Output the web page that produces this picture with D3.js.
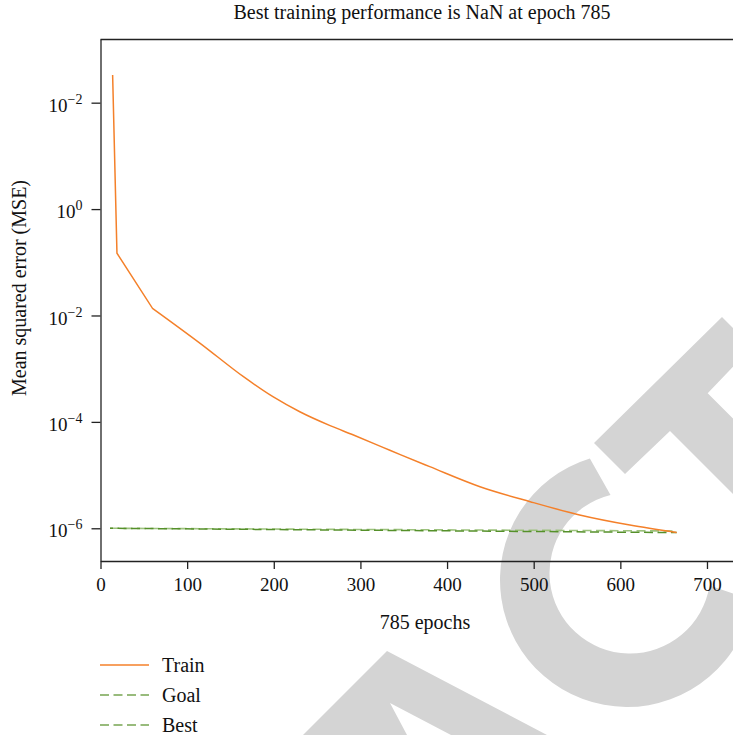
<!DOCTYPE html>
<html>
<head>
<meta charset="utf-8">
<script src="https://cdn.jsdelivr.net/npm/d3@7"></script>
<style>
  body { margin: 0; background: #fff; }
  svg { display: block; }
  text { font-family: "Liberation Serif", "DejaVu Serif", serif; fill: #111; }
</style>
</head>
<body>
<div id="chart"></div>
<script>
// training record
var trainEpochs = [14, 19, 60, 115, 165, 199, 230, 265, 292, 326, 346, 380, 438, 496, 553, 611, 665];
var trainMSE = [331, 0.148, 0.01365, 0.0030, 7.06e-4, 2.97e-4, 1.55e-4, 8.5e-5, 5.66e-5, 3.32e-5, 2.42e-5, 1.44e-5, 6.05e-6, 3.16e-6, 1.78e-6, 1.15e-6, 8.3e-7];
var goalEpochs = [11, 665];
var goalMSE = [1.0e-6, 8.9e-7];
var bestEpochs = [11, 665];
var bestMSE = [1.0e-6, 8.3e-7];

var xTicks = [0, 100, 200, 300, 400, 500, 600, 700];
var yTicks = [1e2, 1e0, 1e-2, 1e-4, 1e-6];
var yTickExp = ["\u22122", "0", "\u22122", "\u22124", "\u22126"];

var legendNames = ["Train", "Goal", "Best"];

var svgWidth = 733;
var svgHeight = 735;

var svg = d3.select("#chart").append("svg")
  .attr("width", svgWidth)
  .attr("height", svgHeight);

// scales
var x = d3.scaleLinear()
  .domain([0, 785])
  .range([100.5, 100.5 + 785 * 0.8664]);

var y = d3.scaleLog()
  .domain([Math.pow(10, -6.615), Math.pow(10, 3.197)])
  .range([561, 39]);

// grey watermark behind the plot
var wm = svg.append("g").attr("fill", "#d4d4d4");

// "C" ring
var rad = Math.PI / 180;
var p = d3.path();
p.arc(627, 580, 127, -107 * rad, 9 * rad - 2 * Math.PI, true);
p.arc(630, 573, 80.5, 9 * rad - 2 * Math.PI, -104 * rad, false);
p.closePath();
wm.append("path").attr("d", p.toString());

// "T"
wm.append("path").attr("d",
  "M594,443 L722,317 L752,347 L707.7,393.3 L860,545 L822,583 L670,431 L625,474 Z");

// "A" piece at the bottom
wm.append("path").attr("d",
  "M250,788 L338,700 L387,651 L547,735 L600,763 L451,735 L390,703 L407,735 L420,760 Z");

// frame top line
svg.append("line")
  .attr("x1", x(0)).attr("x2", x(785))
  .attr("y1", 39.5).attr("y2", 39.5)
  .attr("stroke", "#222").attr("stroke-width", 1.3);

// axes
var xAxis = svg.append("g")
  .attr("transform", "translate(0, 561)")
  .call(d3.axisBottom(x).tickValues(xTicks).tickSize(8).tickSizeOuter(0).tickPadding(9));

var yAxis = svg.append("g")
  .attr("transform", "translate(100.5, 0)")
  .call(d3.axisLeft(y).tickValues(yTicks).tickSize(9).tickSizeOuter(0).tickPadding(9).tickFormat(""));

[xAxis, yAxis].forEach(function(a) {
  a.select(".domain").attr("stroke", "#222").attr("stroke-width", 1.3);
  a.selectAll(".tick line").attr("stroke", "#222").attr("stroke-width", 1.3);
  a.selectAll(".tick text")
    .attr("font-family", "Liberation Serif, serif")
    .attr("font-size", 19)
    .attr("fill", "#111");
});

// y tick labels with superscript exponents
yAxis.selectAll(".tick text").each(function(d, i) {
  var t = d3.select(this);
  t.append("tspan").text("10");
  t.append("tspan").attr("dy", -8).attr("font-size", 14).text(yTickExp[i]);
});
yAxis.selectAll(".tick text").attr("dy", "0.45em");

// lines
var line = d3.line()
  .x(function(d) { return x(d[0]); })
  .y(function(d) { return y(d[1]); });

var smoothLine = d3.line()
  .curve(d3.curveMonotoneX)
  .x(function(d) { return x(d[0]); })
  .y(function(d) { return y(d[1]); });

function zip(a, b) {
  return a.map(function(v, i) { return [v, b[i]]; });
}

svg.append("path")
  .datum(zip(goalEpochs, goalMSE))
  .attr("d", line)
  .attr("fill", "none")
  .attr("stroke", "#9dc27e")
  .attr("stroke-width", 1.6)
  .attr("stroke-dasharray", "9,4.5");

svg.append("path")
  .datum(zip(bestEpochs, bestMSE))
  .attr("d", line)
  .attr("fill", "none")
  .attr("stroke", "#55902a")
  .attr("stroke-width", 1.5)
  .attr("stroke-dasharray", "9,4.5")
  .attr("stroke-dashoffset", 6);

// train: the first drop is sharp, the tail is a smooth decay
var train = zip(trainEpochs, trainMSE);
var trainPath = line(train.slice(0, 3)) + smoothLine(train.slice(2)).replace(/^M/, "L");
svg.append("path")
  .attr("d", trainPath)
  .attr("fill", "none")
  .attr("stroke", "#f4802a")
  .attr("stroke-width", 1.5);

// title and axis labels
svg.append("text")
  .attr("x", 422).attr("y", 19)
  .attr("text-anchor", "middle")
  .attr("font-size", 20)
  .text("Best training performance is NaN at epoch 785");

svg.append("text")
  .attr("x", 425).attr("y", 629)
  .attr("text-anchor", "middle")
  .attr("font-size", 20)
  .text("785 epochs");

svg.append("text")
  .attr("transform", "translate(26, 288) rotate(-90)")
  .attr("text-anchor", "middle")
  .attr("font-size", 20)
  .text("Mean squared error (MSE)");

// legend
var legendColors = ["#f4802a", "#77a552", "#77a552"];
var legendDash = [null, "9,4.5", "9,4.5"];
var legend = svg.append("g");
legendNames.forEach(function(name, i) {
  var ly = 665 + i * 30;
  legend.append("line")
    .attr("x1", 100).attr("x2", 149)
    .attr("y1", ly).attr("y2", ly)
    .attr("stroke", legendColors[i])
    .attr("stroke-width", 1.5)
    .attr("stroke-dasharray", legendDash[i]);
  legend.append("text")
    .attr("x", 162).attr("y", ly)
    .attr("dy", "0.35em")
    .attr("font-size", 20)
    .text(name);
});
</script>
</body>
</html>
